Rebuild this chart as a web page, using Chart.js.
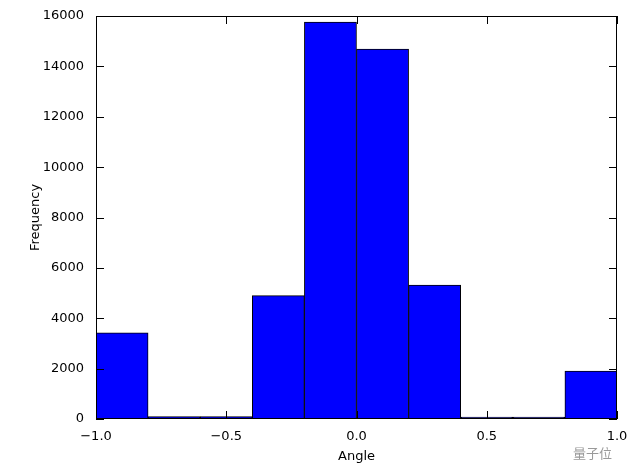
<!DOCTYPE html>
<html><head><meta charset="utf-8">
<script src="https://cdn.jsdelivr.net/npm/chart.js@4/dist/chart.umd.min.js"></script>
<style>html,body{margin:0;padding:0;background:#fff}#w{width:640px;height:468px}</style>
</head><body><div id="w"><canvas id="c"></canvas></div>
<script>
const binCenters = [-0.9,-0.7,-0.5,-0.3,-0.1,0.1,0.3,0.5,0.7,0.9];
const frequency = [3420,100,100,4900,15760,14690,5320,80,80,1900];
const xTicks = [-1.0,-0.5,0.0,0.5,1.0];
const yTicks = [0,2000,4000,6000,8000,10000,12000,14000,16000];
const fmtX = v => (v<0?'\u2212':'') + Math.abs(v).toFixed(1);

const frame = {
  id:'frame',
  afterDatasetsDraw(ch){
    const {ctx, chartArea:a, scales:{x,y}} = ch;
    ctx.save();
    ctx.strokeStyle='#000'; ctx.lineWidth=1;
    ctx.strokeRect(a.left+0.5,a.top+0.5,a.right-a.left-1,a.bottom-a.top-1);
    ctx.beginPath();
    xTicks.forEach(v=>{const p=Math.round(x.getPixelForValue(v))+0.5;
      ctx.moveTo(p,a.bottom);ctx.lineTo(p,a.bottom-8);ctx.moveTo(p,a.top);ctx.lineTo(p,a.top+8);});
    yTicks.forEach(v=>{const p=Math.round(y.getPixelForValue(v))+0.5;
      ctx.moveTo(a.left,p);ctx.lineTo(a.left+8,p);ctx.moveTo(a.right,p);ctx.lineTo(a.right-8,p);});
    ctx.stroke();
    ctx.fillStyle='#999'; ctx.font='13px "Noto Sans CJK SC"';
    ctx.fillText('量子位',573,458);
    ctx.restore();
  }
};

new Chart(document.getElementById('c'),{
  type:'bar',
  data:{datasets:[{data:binCenters.map((c,i)=>({x:c,y:frequency[i]})),
    backgroundColor:'#0000ff',borderColor:'#000',borderWidth:1,borderSkipped:false,
    barPercentage:1,categoryPercentage:1}]},
  options:{
    responsive:true,maintainAspectRatio:false,animation:false,
    layout:{padding:{left:24,right:23,top:16,bottom:0}},
    plugins:{legend:{display:false},tooltip:{enabled:false}},
    scales:{
      x:{type:'linear',min:-1,max:1,offset:false,
        afterBuildTicks(s){s.ticks=xTicks.map(v=>({value:v}));},
        afterFit(s){s.height=49;},
        grid:{display:false},border:{display:false},
        ticks:{callback:v=>fmtX(v),color:'#000',font:{family:'DejaVu Sans',size:13},padding:2,maxRotation:0},
        title:{display:true,text:'Angle',color:'#000',font:{family:'DejaVu Sans',size:13},padding:{top:1}}},
      y:{min:0,max:16000,
        afterBuildTicks(s){s.ticks=yTicks.map(v=>({value:v}));},
        afterFit(s){s.width=72;},
        grid:{display:false},border:{display:false},
        ticks:{callback:v=>String(v),color:'#000',font:{family:'DejaVu Sans',size:13},padding:4},
        title:{display:true,text:'Frequency',color:'#000',font:{family:'DejaVu Sans',size:13},padding:{bottom:4}}}
    }
  },
  plugins:[frame]
});
</script></body></html>
